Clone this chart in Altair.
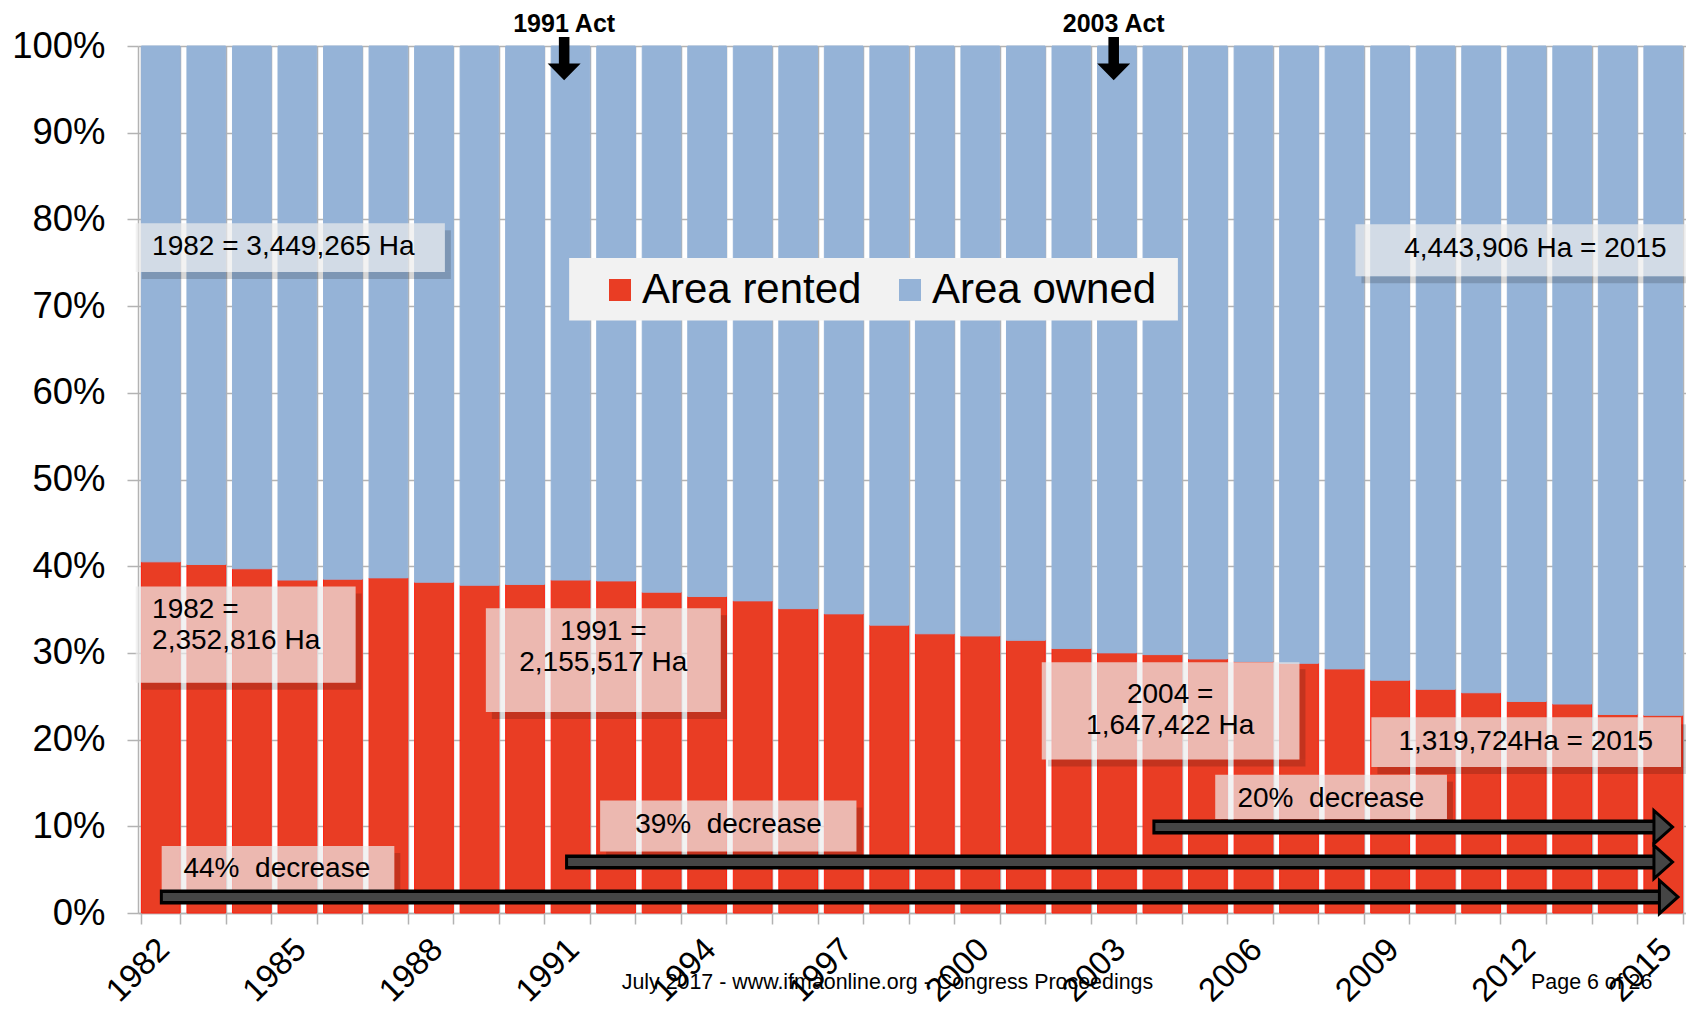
import altair as alt
import pandas as pd

# ---------------- data ----------------
years = list(range(1982, 2016))
series = ["Area rented", "Area owned"]
rented = [40.5, 40.2, 39.7, 38.4, 38.5, 38.65, 38.15, 37.8, 37.9, 38.4,
          38.3, 37.0, 36.5, 36.0, 35.1, 34.5, 33.2, 32.2, 31.95, 31.45,
          30.5, 30.0, 29.8, 29.3, 29.0, 28.8, 28.15, 26.85, 25.8, 25.4,
          24.4, 24.1, 22.9, 22.8]
owned = [59.5, 59.8, 60.3, 61.6, 61.5, 61.35, 61.85, 62.2, 62.1, 61.6,
         61.7, 63.0, 63.5, 64.0, 64.9, 65.5, 66.8, 67.8, 68.05, 68.55,
         69.5, 70.0, 70.2, 70.7, 71.0, 71.2, 71.85, 73.15, 74.2, 74.6,
         75.6, 75.9, 77.1, 77.2]
y_ticks = [0, 10, 20, 30, 40, 50, 60, 70, 80, 90, 100]

# annotation boxes (x in year units, y in percent)
box_x1 = [1981.45, 2008.24, 1981.45, 1989.14, 2001.35, 2008.59, 2005.16, 1991.65, 1982.02]
box_x2 = [1988.24, 2015.50, 1986.28, 1994.30, 2007.01, 2015.39, 2010.25, 1997.28, 1987.13]
box_top = [79.55, 79.43, 37.66, 35.16, 28.93, 22.57, 15.96, 12.97, 7.73]
box_bottom = [73.94, 73.44, 26.56, 23.19, 17.71, 16.83, 10.85, 7.10, 2.62]

# left-aligned notes (y = first line)
left_text = ["1982 = 3,449,265 Ha", "1982 =\n2,352,816 Ha"]
left_x = [1981.81, 1981.81]
left_y = [76.8, 34.9]
# centred notes (y = first line)
center_text = ["4,443,906 Ha = 2015", "1991 =\n2,155,517 Ha", "2004 =\n1,647,422 Ha",
               "1,319,724Ha = 2015", "20%\u00a0 decrease", "39%\u00a0 decrease", "44%\u00a0 decrease"]
center_x = [2012.19, 1991.72, 2004.17, 2011.98, 2007.70, 1994.47, 1984.55]
center_y = [76.56, 32.4, 25.2, 19.7, 13.2, 10.1, 5.1]

# legend background box
legend_box_x1 = [1990.97]
legend_box_x2 = [2004.34]
legend_box_top = [75.56]
legend_box_bottom = [68.33]

# horizontal "decrease" arrows
arrow_start = [1981.98, 1990.88, 2003.78]
arrow_end = [2014.92, 2014.81, 2014.81]
arrow_head = [2015.12, 2015.00, 2015.00]
arrow_y = [1.85, 5.88, 9.91]

# acts (labels + down arrows)
act_label = ["1991 Act", "2003 Act"]
act_x = [1990.86, 2002.93]
act_label_y = [101.6, 101.6]
act_arrow_y = [98.5, 98.5]

# footer
footer_text = ["July 2017 - www.ifmaonline.org - Congress Proceedings", "Page 6 of 26"]
footer_x = [1997.96, 2013.43]
footer_y = [-8.1, -8.1]

# ---------------- tables ----------------
bar_df = pd.DataFrame({
    "year": years * 2,
    "pct": rented + owned,
    "series": [series[0]] * len(years) + [series[1]] * len(years),
    "order": [0] * len(years) + [1] * len(years),
})
box_df = pd.DataFrame({"x1": box_x1, "x2": box_x2, "top": box_top, "bottom": box_bottom})
left_df = pd.DataFrame({"t": left_text, "x": left_x, "y": left_y})
center_df = pd.DataFrame({"t": center_text, "x": center_x, "y": center_y})
leg_df = pd.DataFrame({"x1": legend_box_x1, "x2": legend_box_x2, "top": legend_box_top,
                       "bottom": legend_box_bottom})
arrow_df = pd.DataFrame({"x1": arrow_start, "x2": arrow_end, "xh": arrow_head, "y": arrow_y})
act_df = pd.DataFrame({"t": act_label, "x": act_x, "ly": act_label_y, "ay": act_arrow_y})
foot_df = pd.DataFrame({"t": footer_text, "x": footer_x, "y": footer_y})

FONT = "Liberation Sans"
GRID = "#B3B3B3"
RED = "#E93D24"
BLUE = "#95B3D7"

y_scale = alt.Scale(domain=[0, 100], nice=False, zero=True)
xq_scale = alt.Scale(domain=[1981.5, 2015.5], nice=False, zero=False)

# ---------------- bars ----------------
bars = alt.Chart(bar_df).mark_bar(strokeWidth=1).encode(
    x=alt.X("year:O",
            scale=alt.Scale(paddingInner=0.15, paddingOuter=0.075),
            axis=alt.Axis(title=None, labelAngle=-45, labelAlign="right", labelBaseline="middle",
                          labelExpr="(datum.value - 1982) % 3 == 0 ? datum.label : ''",
                          labelFontSize=33, labelFont=FONT, labelColor="black",
                          labelPadding=20, labelOffset=3, labelOverlap=False,
                          tickBand="extent", ticks=True, tickSize=11, tickColor=GRID, tickWidth=1.5,
                          grid=True, gridColor=GRID, gridWidth=1.5,
                          domainColor=GRID, domainWidth=1.5)),
    y=alt.Y("pct:Q", stack="zero", scale=y_scale,
            axis=alt.Axis(title=None, values=y_ticks, labelExpr="datum.value + '%'",
                          labelFontSize=36.5, labelFont=FONT, labelColor="black",
                          labelPadding=22, tickSize=11, tickColor=GRID, tickWidth=1.5,
                          grid=True, gridColor=GRID, gridWidth=1.5,
                          domainColor=GRID, domainWidth=1.5)),
    color=alt.Color("series:N", scale=alt.Scale(domain=series, range=[RED, BLUE]),
                    legend=alt.Legend(title=None, orient="none", legendX=461, legendY=223,
                                      direction="horizontal", labelFontSize=42, labelFont=FONT,
                                      labelColor="black", labelLimit=500, symbolType="square",
                                      symbolSize=484, symbolStrokeWidth=0, labelOffset=1,
                                      columnPadding=27, padding=0)),
    stroke=alt.condition(alt.datum.series == "Area rented", alt.value("#FF2010"), alt.value(BLUE)),
    order=alt.Order("order:Q"),
)

def xq(field):
    return alt.X(f"{field}:Q", scale=xq_scale, axis=None)

def yq(field):
    return alt.Y(f"{field}:Q", scale=y_scale, axis=None)

# ---------------- boxes with shadows ----------------
shadow_b = alt.Chart(box_df).mark_rect(color="black", opacity=0.16, xOffset=6, x2Offset=6, y2Offset=7).encode(
    x=xq("x1"), x2="x2", y=yq("bottom"), y2="bottom")
shadow_r = alt.Chart(box_df).mark_rect(color="black", opacity=0.16, x2Offset=6, yOffset=7).encode(
    x=xq("x2"), x2="x2", y=yq("top"), y2="bottom")
boxes = alt.Chart(box_df).mark_rect(color="#EDEDED", opacity=0.7).encode(
    x=xq("x1"), x2="x2", y=yq("top"), y2="bottom")
legend_box = alt.Chart(leg_df).mark_rect(color="#F2F2F2", opacity=1).encode(
    x=xq("x1"), x2="x2", y=yq("top"), y2="bottom")

left_notes = alt.Chart(left_df).mark_text(align="left", baseline="middle", font=FONT, fontSize=28,
                                          color="black", lineBreak="\n", lineHeight=31).encode(
    x=xq("x"), y=yq("y"), text="t:N")
center_notes = alt.Chart(center_df).mark_text(align="center", baseline="middle", font=FONT, fontSize=28,
                                              color="black", lineBreak="\n", lineHeight=31).encode(
    x=xq("x"), y=yq("y"), text="t:N")

# ---------------- arrows ----------------
shaft_outer = alt.Chart(arrow_df).mark_rule(color="black", strokeWidth=15).encode(
    x=xq("x1"), x2="x2", y=yq("y"))
shaft_inner = alt.Chart(arrow_df).mark_rule(color="#454545", strokeWidth=8, xOffset=3).encode(
    x=xq("x1"), x2="x2", y=yq("y"))
heads = alt.Chart(arrow_df).mark_point(shape="M-0.56,-1L0.56,0L-0.56,1Z", size=1100, filled=True,
                                       fill="#454545", stroke="black", strokeWidth=3, opacity=1).encode(
    x=xq("xh"), y=yq("y"))

act_arrows = alt.Chart(act_df).mark_point(
    shape="M-0.24,-1L0.24,-1L0.24,0.2L0.75,0.2L0,0.96L-0.75,0.2L-0.24,0.2Z",
    size=1936, filled=True, color="black", opacity=1).encode(x=xq("x"), y=yq("ay"))
act_text = alt.Chart(act_df).mark_text(align="center", baseline="alphabetic", font=FONT, fontSize=25,
                                       fontWeight="bold", color="black").encode(
    x=xq("x"), y=yq("ly"), text="t:N")

footer = alt.Chart(foot_df).mark_text(align="center", baseline="middle", font=FONT, fontSize=21.4,
                                      color="black").encode(x=xq("x"), y=yq("y"), text="t:N")

chart = alt.layer(
    bars, shadow_b, shadow_r, boxes, legend_box, left_notes, center_notes,
    shaft_outer, shaft_inner, heads, act_arrows, act_text, footer
).resolve_scale(x="independent").resolve_axis(y="independent").properties(
    width=1548, height=867,
    padding={"left": 130, "top": 38, "right": 0, "bottom": 94},
    autosize=alt.AutoSizeParams(type="none"),
).configure_view(strokeWidth=0)

chart.save("out.html", embed_options={"renderer": "svg", "actions": False})
